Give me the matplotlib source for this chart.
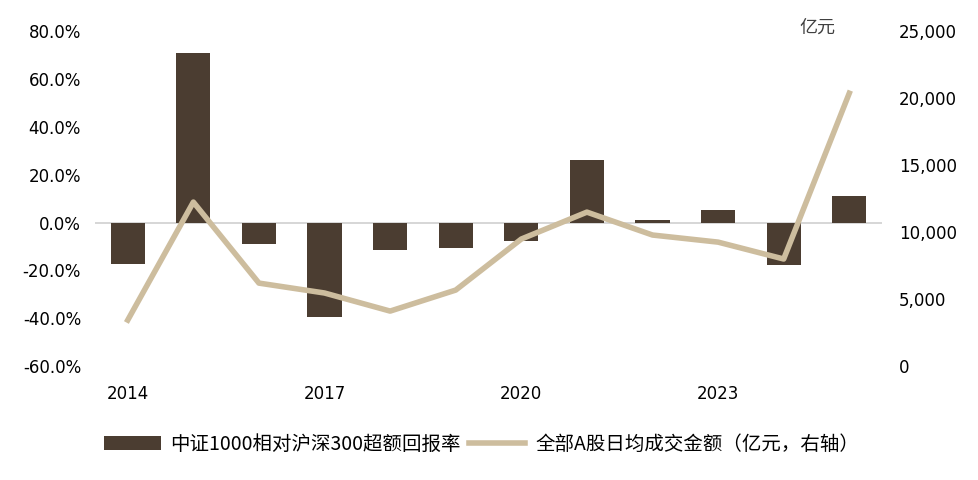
import matplotlib.pyplot as plt
from matplotlib.ticker import FuncFormatter, FixedLocator

plt.rcParams['font.family'] = ['DejaVu Sans', 'Noto Sans CJK SC']

years = [2014, 2015, 2016, 2017, 2018, 2019, 2020, 2021, 2022, 2023, 2024, 2025]
excess_return = [-17.3, 70.8, -9.0, -39.5, -11.5, -10.7, -7.7, 26.1, 1.0, 5.2, -17.8, 11.1]
turnover = [3430, 12240, 6190, 5450, 4100, 5670, 9480, 11490, 9780, 9250, 7990, 20370]
xtick_years = [2014, 2017, 2020, 2023]

BAR_C = "#4B3D31"
LINE_C = "#CDBD9E"
CJK = ['Noto Sans CJK SC', 'DejaVu Sans']

fig = plt.figure(figsize=(9.79, 4.8), dpi=100)
ax = fig.add_axes([0.097, 0.2375, 0.804, 0.6975])
ax2 = ax.twinx()

ax.bar(years, excess_return, width=0.52, color=BAR_C, zorder=2,
       label="中证1000相对沪深300超额回报率")
ax.axhline(0, color="#d0d0d0", lw=1.2, zorder=1)
ax2.plot(years, turnover, color=LINE_C, lw=4, zorder=3,
         label="全部A股日均成交金额（亿元，右轴）")

ax.set_xlim(years[0] - 0.5, years[-1] + 0.5)
ax.set_ylim(-60, 80)
ax.yaxis.set_major_locator(FixedLocator(range(-60, 81, 20)))
ax.yaxis.set_major_formatter(FuncFormatter(lambda v, p: f"{v:.1f}%"))
ax2.set_ylim(0, 25000)
ax2.yaxis.set_major_locator(FixedLocator(range(0, 25001, 5000)))
ax2.yaxis.set_major_formatter(FuncFormatter(lambda v, p: f"{int(v):,}"))
ax.set_xticks(xtick_years)
ax.set_xticklabels([str(y) for y in xtick_years])

for a in (ax, ax2):
    for s in a.spines.values():
        s.set_visible(False)
    a.tick_params(length=0, labelsize=12, colors="black")
ax.tick_params(axis="y", pad=10)
ax2.tick_params(axis="y", pad=12)
ax.tick_params(axis="x", pad=14)

fig.text(817 / 979, 1 - 28 / 480, "亿元", fontsize=13,
         color="#404040", ha="center", va="center", family=CJK)

h1, l1 = ax.get_legend_handles_labels()
h2, l2 = ax2.get_legend_handles_labels()
fig.legend(h1 + h2, l1 + l2, loc="center", bbox_to_anchor=(0.492, 0.075),
           ncol=2, frameon=False, prop={"family": CJK, "size": 14},
           handlelength=2.9, handleheight=0.75, handletextpad=0.5,
           columnspacing=0.4)

fig.savefig("out.png", dpi=100, facecolor="white")
